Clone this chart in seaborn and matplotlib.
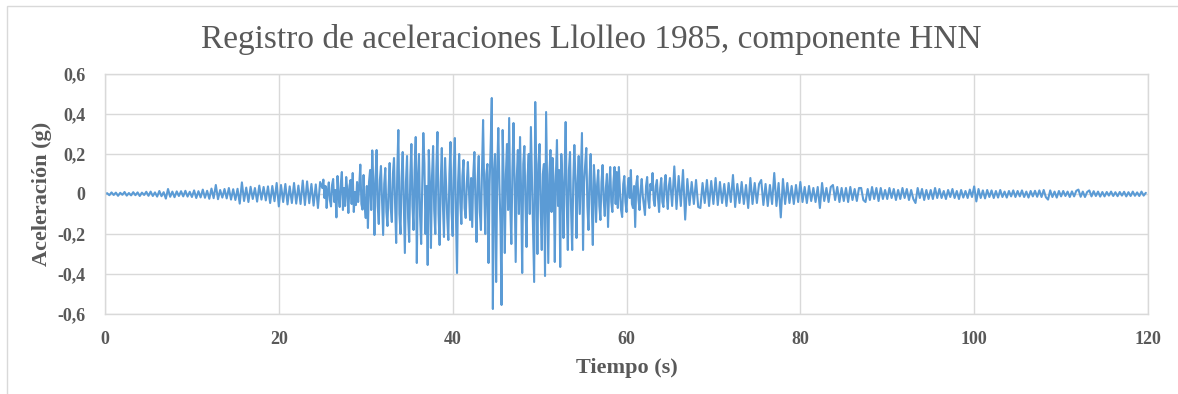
import numpy as np
import pandas as pd
import matplotlib
matplotlib.use("Agg")
import matplotlib.pyplot as plt
from matplotlib.patches import Rectangle
import seaborn as sns

# ---------------- data ----------------
# each list covers 5 s; 20 values -> 0.25 s steps, 40 values -> 0.125 s steps
seg_len = 5.0
acc_000_005 = [0.000, 0.004, -0.006, 0.008, -0.005, 0.007, -0.009, 0.006, -0.004, 0.010,
               -0.008, 0.005, -0.007, 0.009, -0.006, 0.008, -0.010, 0.007, -0.005, 0.011]
acc_005_010 = [-0.009, 0.012, -0.010, 0.008, -0.013, 0.015, -0.011, 0.009, -0.023, 0.025,
               -0.014, 0.012, -0.016, 0.013, -0.010, 0.014, -0.012, 0.016, -0.013, 0.011]
acc_010_015 = [-0.015, 0.018, -0.020, 0.014, -0.017, 0.022, -0.019, 0.016, -0.024, 0.027,
               -0.021, 0.045, -0.026, 0.020, -0.018, 0.025, -0.022, 0.030, -0.028, 0.024]
acc_015_020 = [-0.030, 0.026, -0.048, 0.058, -0.035, 0.032, -0.040, 0.036, -0.025, 0.030,
               -0.038, 0.042, -0.028, 0.035, -0.032, 0.038, -0.045, 0.040, -0.036, 0.055]
acc_020_025 = [-0.062, 0.045, -0.040, 0.050, -0.052, 0.038, -0.045, 0.055, -0.048, 0.042,
               -0.050, 0.067, -0.055, 0.063, -0.046, 0.050, -0.058, 0.048, -0.070, 0.060]
acc_025_030 = [0.030, 0.072, -0.020, 0.040, -0.070, 0.010, 0.058, -0.030, -0.062, 0.045,
               0.075, -0.040, 0.020, -0.117, 0.090, -0.010, -0.065, 0.050, 0.110, -0.080,
               0.030, -0.060, 0.085, 0.020, -0.095, 0.040, 0.070, -0.050, 0.105, -0.090,
               0.010, -0.055, 0.060, -0.040, 0.040, 0.147, -0.050, -0.078, 0.095, -0.060]
acc_030_035 = [-0.120, 0.040, -0.170, 0.060, 0.120, -0.080, 0.218, 0.050, -0.205, 0.080,
               0.220, -0.060, -0.150, 0.070, 0.140, -0.030, -0.205, 0.050, 0.130, -0.090,
               -0.160, 0.020, 0.155, -0.070, -0.140, 0.100, 0.180, -0.050, -0.245, 0.110,
               0.320, -0.100, -0.200, 0.080, 0.210, -0.040, -0.295, 0.060, 0.190, -0.120]
acc_035_040 = [-0.240, 0.090, 0.250, -0.060, -0.180, 0.120, 0.285, -0.345, 0.080, 0.200,
               -0.110, -0.250, 0.050, 0.305, 0.150, -0.200, 0.040, -0.355, 0.220, 0.060,
               -0.270, 0.090, 0.240, -0.080, -0.200, 0.130, 0.310, -0.100, -0.255, 0.060,
               0.230, -0.050, -0.215, 0.180, 0.040, -0.120, -0.230, 0.100, 0.260, -0.090]
acc_040_045 = [-0.210, 0.120, 0.280, -0.100, -0.395, 0.060, 0.200, -0.040, -0.150, 0.090,
               0.170, -0.070, -0.120, 0.050, 0.160, 0.020, -0.130, 0.080, -0.165, 0.100,
               0.210, -0.050, -0.240, 0.070, 0.190, -0.090, -0.180, 0.120, 0.370, 0.040,
               -0.200, 0.100, 0.150, -0.345, 0.050, 0.250, 0.480, -0.575, 0.100, 0.200]
acc_045_050 = [-0.440, 0.100, 0.330, 0.050, -0.150, -0.555, 0.320, 0.060, -0.295, 0.100,
               0.250, -0.080, 0.380, -0.060, -0.250, 0.120, 0.355, 0.050, -0.340, 0.080,
               0.220, -0.100, 0.285, 0.010, -0.395, 0.150, 0.240, -0.050, -0.265, 0.090,
               0.200, -0.100, 0.335, 0.080, -0.200, -0.440, 0.460, 0.100, -0.300, 0.150]
acc_050_055 = [0.250, -0.080, -0.280, 0.100, 0.150, -0.410, 0.410, 0.050, -0.345, 0.100,
               0.220, -0.090, 0.180, 0.050, -0.340, 0.090, 0.270, -0.060, 0.120, -0.365,
               0.200, 0.050, -0.220, 0.100, 0.360, -0.050, -0.280, 0.120, 0.210, -0.080,
               -0.280, 0.060, 0.245, 0.080, -0.220, 0.050, 0.190, -0.100, 0.100, 0.305]
acc_055_060 = [-0.280, 0.060, 0.150, 0.230, -0.060, -0.180, 0.080, 0.200, -0.050, -0.255,
               0.145, 0.040, -0.140, 0.050, 0.120, -0.060, -0.130, 0.060, 0.145, -0.030,
               -0.110, 0.030, 0.100, -0.165, 0.020, 0.135, -0.040, -0.090, 0.060, 0.135,
               -0.050, 0.110, -0.070, 0.135, 0.010, -0.080, -0.115, 0.050, 0.090, -0.040]
acc_060_065 = [-0.090, 0.030, 0.080, -0.020, 0.120, -0.050, -0.070, 0.040, -0.165, 0.050,
               0.090, -0.030, -0.080, 0.020, 0.075, -0.010, -0.060, -0.105, 0.040, 0.085,
               -0.030, -0.070, 0.050, 0.020, 0.105, -0.030, -0.060, 0.040, 0.070, -0.020,
               -0.090, 0.030, 0.080, -0.040, -0.065, 0.050, 0.095, -0.010, -0.075, 0.040]
acc_065_070 = [0.080, -0.060, 0.138, -0.075, 0.090, -0.060, 0.120, -0.128, 0.075, -0.055,
               0.060, -0.050, 0.070, -0.065, -0.070, 0.055, -0.045, 0.070, -0.060, 0.065]
acc_070_075 = [-0.050, 0.080, -0.055, 0.060, -0.045, 0.050, -0.060, 0.055, -0.040, 0.095,
               -0.065, 0.050, -0.045, 0.060, -0.050, 0.045, -0.070, 0.080, -0.050, 0.055]
acc_075_080 = [-0.045, 0.050, 0.070, -0.055, 0.050, -0.060, 0.045, -0.050, 0.105, -0.060,
               0.055, -0.117, 0.075, -0.050, 0.055, -0.045, 0.040, -0.050, 0.045, -0.040]
acc_080_085 = [0.060, -0.040, 0.035, -0.045, 0.040, -0.035, 0.030, -0.040, 0.035, -0.070,
               0.055, -0.035, 0.030, -0.040, 0.035, 0.045, -0.030, 0.035, -0.040, 0.030]
acc_085_090 = [-0.035, 0.030, -0.040, 0.035, -0.030, 0.025, -0.035, 0.030, 0.030, -0.030,
               -0.040, 0.025, -0.030, 0.035, -0.025, 0.030, -0.035, 0.030, -0.025, 0.020]
acc_090_095 = [-0.025, 0.030, -0.020, 0.025, -0.030, 0.020, -0.025, 0.030, -0.020, 0.025,
               -0.030, 0.020, -0.025, -0.045, 0.030, -0.020, 0.025, -0.030, 0.020, -0.025]
acc_095_100 = [0.020, -0.025, 0.030, -0.020, 0.025, -0.020, 0.015, -0.025, 0.020, -0.015,
               0.025, -0.020, 0.015, -0.025, 0.020, -0.018, 0.015, -0.020, 0.022, -0.015]
acc_100_105 = [0.038, -0.037, 0.025, -0.020, 0.018, -0.022, 0.020, -0.015, 0.018, -0.020,
               0.015, -0.018, 0.020, -0.015, 0.012, -0.018, 0.015, -0.012, 0.018, -0.015]
acc_105_110 = [0.015, -0.012, 0.018, -0.015, 0.012, -0.018, 0.015, -0.012, 0.016, -0.014,
               0.018, -0.015, 0.020, -0.016, -0.028, 0.018, -0.015, 0.012, -0.018, 0.015]
acc_110_115 = [-0.012, 0.015, -0.010, 0.012, -0.015, 0.013, -0.012, 0.016, 0.022, -0.014,
               0.012, -0.015, 0.010, 0.018, -0.012, 0.014, -0.010, 0.012, -0.013, 0.010]
acc_115_120 = [-0.012, 0.010, -0.008, 0.012, -0.010, 0.009, -0.011, 0.010, -0.008, 0.011,
               -0.012, 0.009, -0.010, 0.012, -0.009, 0.008, -0.010, 0.012, -0.008, 0.006]

x_ticks = [0, 20, 40, 60, 80, 100, 120]
x_tick_labels = ["0", "20", "40", "60", "80", "100", "120"]
y_ticks = [-0.6, -0.4, -0.2, 0.0, 0.2, 0.4, 0.6]
y_tick_labels = ["-0,6", "-0,4", "-0,2", "0", "0,2", "0,4", "0,6"]

title = "Registro de aceleraciones Llolleo 1985, componente HNN"
x_label = "Tiempo (s)"
y_label = "Aceleración (g)"

segments = [acc_000_005, acc_005_010, acc_010_015, acc_015_020, acc_020_025, acc_025_030,
            acc_030_035, acc_035_040, acc_040_045, acc_045_050, acc_050_055, acc_055_060,
            acc_060_065, acc_065_070, acc_070_075, acc_075_080, acc_080_085, acc_085_090,
            acc_090_095, acc_095_100, acc_100_105, acc_105_110, acc_110_115, acc_115_120]
t_parts, a_parts = [], []
for i, s in enumerate(segments):
    n = len(s)
    t_parts.append(i * seg_len + np.arange(n) * seg_len / n)
    a_parts.append(np.asarray(s, dtype=float))
df = pd.DataFrame({"t": np.concatenate(t_parts), "a": np.concatenate(a_parts)})

# ---------------- style ----------------
sns.set_theme(style="white")
plt.rcParams["font.family"] = ["Liberation Serif", "DejaVu Serif"]

W, H = 1178, 394
fig = plt.figure(figsize=(W / 100, H / 100), dpi=100)
ax = fig.add_axes([105 / W, 1 - 314 / H, (1148 - 105) / W, (314 - 74) / H])

sns.lineplot(data=df, x="t", y="a", ax=ax, color="#5B9BD5", linewidth=1.5,
             estimator=None, sort=False)

ax.set_xlim(0, 120)
ax.set_ylim(-0.6, 0.6)
ax.set_xticks(x_ticks)
ax.set_xticklabels(x_tick_labels)
ax.set_yticks(y_ticks)
ax.set_yticklabels(y_tick_labels)

grid_c = "#D9D9D9"
ax.grid(True, color=grid_c, linewidth=1.0)
ax.set_axisbelow(True)
for s in ax.spines.values():
    s.set_color(grid_c)
    s.set_linewidth(1.0)

tick_c = "#595959"
ax.tick_params(axis="both", length=0, labelsize=13, colors=tick_c)
ax.tick_params(axis="y", pad=14)
ax.tick_params(axis="x", pad=12)
for lab in ax.get_xticklabels() + ax.get_yticklabels():
    lab.set_fontweight("bold")

ax.set_xlabel(x_label, fontsize=16, fontweight="bold", color=tick_c)
ax.set_ylabel(y_label, fontsize=16, fontweight="bold", color=tick_c)
ax.xaxis.label.set_va("center")
ax.yaxis.label.set_va("center")
ax.xaxis.set_label_coords(0.5, -0.225)
ax.yaxis.set_label_coords(-0.0604, 0.5)

fig.text(0.502, 1 - 48 / H, title, ha="center", va="baseline",
         fontsize=24, color=tick_c)

# chart-area border
fig.patches.append(Rectangle((7 / W, -0.2), 1.2, 1.2 - 6 / H, transform=fig.transFigure,
                             fill=False, edgecolor=grid_c, linewidth=1.0))

fig.savefig("out.png", dpi=100)
